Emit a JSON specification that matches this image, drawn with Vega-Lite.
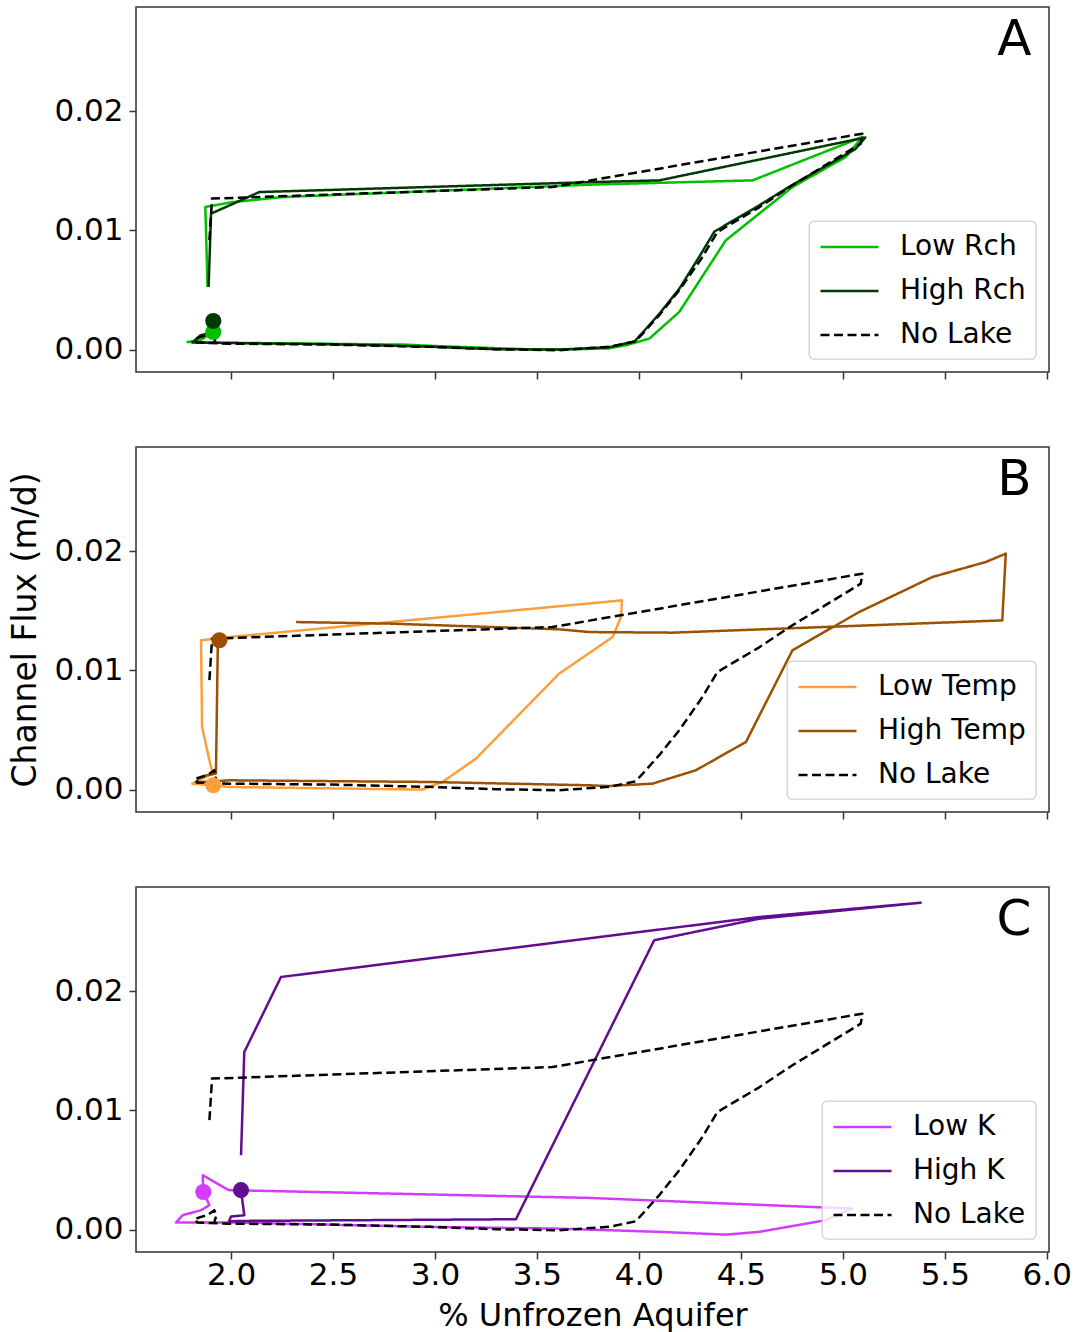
{
  "$schema": "https://vega.github.io/schema/vega-lite/v6.json",
  "background": "white",
  "padding": {"left": 9, "top": 6, "right": 5, "bottom": 0},
  "config": {
    "font": "DejaVu Sans",
    "view": {"stroke": "#333333", "strokeWidth": 1.5},
    "axis": {"domain": false, "grid": false, "ticks": true, "tickColor": "#333333", "tickWidth": 1.5, "tickSize": 7, "labelFont": "DejaVu Sans", "labelFontSize": 31, "labelColor": "#000000", "labelPadding": 6, "labelFlush": false, "labelOverlap": false, "labelBound": false, "titleFont": "DejaVu Sans", "titleFontSize": 32, "titleFontWeight": "normal", "titleColor": "#000000", "titlePadding": 11},
    "axisX": {"labelPadding": 1, "titlePadding": 10},
    "axisY": {"titleFontSize": 33},
    "legend": {"orient": "bottom-right", "offset": 13, "padding": 10, "strokeColor": "#d0d0d0", "strokeWidth": 1.3, "fillColor": "rgba(255,255,255,0.8)", "cornerRadius": 5, "symbolType": "M-1,0H3", "symbolSize": 841, "symbolStrokeWidth": 2.5, "labelFont": "DejaVu Sans", "labelFontSize": 28, "labelColor": "#000000", "labelOffset": 49, "rowPadding": 14}
  },
  "datasets": {
    "nolake": [
      {"s": "No Lake", "i": 0, "x": 1.894, "y": 0.00918},
      {"s": "No Lake", "i": 1, "x": 1.907, "y": 0.01267},
      {"s": "No Lake", "i": 2, "x": 3.575, "y": 0.01364},
      {"s": "No Lake", "i": 3, "x": 5.096, "y": 0.01812},
      {"s": "No Lake", "i": 4, "x": 5.088, "y": 0.01728},
      {"s": "No Lake", "i": 5, "x": 4.753, "y": 0.01379},
      {"s": "No Lake", "i": 6, "x": 4.59, "y": 0.01194},
      {"s": "No Lake", "i": 7, "x": 4.385, "y": 0.00987},
      {"s": "No Lake", "i": 8, "x": 4.312, "y": 0.00778},
      {"s": "No Lake", "i": 9, "x": 4.198, "y": 0.00498},
      {"s": "No Lake", "i": 10, "x": 4.1, "y": 0.00289},
      {"s": "No Lake", "i": 11, "x": 3.985, "y": 0.0007},
      {"s": "No Lake", "i": 12, "x": 3.854, "y": 0.00023},
      {"s": "No Lake", "i": 13, "x": 3.609, "y": -0.00005},
      {"s": "No Lake", "i": 14, "x": 3.299, "y": 0.00003},
      {"s": "No Lake", "i": 15, "x": 2.972, "y": 0.00023},
      {"s": "No Lake", "i": 16, "x": 2.482, "y": 0.00042},
      {"s": "No Lake", "i": 17, "x": 1.992, "y": 0.0005},
      {"s": "No Lake", "i": 18, "x": 1.836, "y": 0.00059},
      {"s": "No Lake", "i": 19, "x": 1.82, "y": 0.00087},
      {"s": "No Lake", "i": 20, "x": 1.853, "y": 0.00107},
      {"s": "No Lake", "i": 21, "x": 1.885, "y": 0.00121},
      {"s": "No Lake", "i": 22, "x": 1.918, "y": 0.00163},
      {"s": "No Lake", "i": 23, "x": 1.929, "y": 0.00121},
      {"s": "No Lake", "i": 24, "x": 1.918, "y": 0.00065}
    ],
    "A": [
      {"s": "Low Rch", "i": 0, "x": 1.913, "y": 0.00148},
      {"s": "Low Rch", "i": 1, "x": 1.85, "y": 0.0008},
      {"s": "Low Rch", "i": 2, "x": 1.787, "y": 0.00064},
      {"s": "Low Rch", "i": 3, "x": 1.95, "y": 0.00058},
      {"s": "Low Rch", "i": 4, "x": 2.5, "y": 0.00048},
      {"s": "Low Rch", "i": 5, "x": 2.85, "y": 0.00042},
      {"s": "Low Rch", "i": 6, "x": 3.0, "y": 0.0003},
      {"s": "Low Rch", "i": 7, "x": 3.5, "y": 0.0},
      {"s": "Low Rch", "i": 8, "x": 3.609, "y": 0.0},
      {"s": "Low Rch", "i": 9, "x": 3.85, "y": 0.0001},
      {"s": "Low Rch", "i": 10, "x": 3.936, "y": 0.00036},
      {"s": "Low Rch", "i": 11, "x": 4.051, "y": 0.00092},
      {"s": "Low Rch", "i": 12, "x": 4.198, "y": 0.00316},
      {"s": "Low Rch", "i": 13, "x": 4.426, "y": 0.00917},
      {"s": "Low Rch", "i": 14, "x": 4.753, "y": 0.01364},
      {"s": "Low Rch", "i": 15, "x": 5.014, "y": 0.01616},
      {"s": "Low Rch", "i": 16, "x": 5.096, "y": 0.01784},
      {"s": "Low Rch", "i": 17, "x": 4.557, "y": 0.0142},
      {"s": "Low Rch", "i": 18, "x": 3.757, "y": 0.01384},
      {"s": "Low Rch", "i": 19, "x": 2.253, "y": 0.0128},
      {"s": "Low Rch", "i": 20, "x": 2.008, "y": 0.01238},
      {"s": "Low Rch", "i": 21, "x": 1.874, "y": 0.01197},
      {"s": "Low Rch", "i": 22, "x": 1.885, "y": 0.00525},
      {"s": "High Rch", "i": 0, "x": 1.913, "y": 0.0024},
      {"s": "High Rch", "i": 1, "x": 1.9, "y": 0.0014},
      {"s": "High Rch", "i": 2, "x": 1.85, "y": 0.0012},
      {"s": "High Rch", "i": 3, "x": 1.81, "y": 0.0006},
      {"s": "High Rch", "i": 4, "x": 2.0, "y": 0.00055},
      {"s": "High Rch", "i": 5, "x": 2.5, "y": 0.00045},
      {"s": "High Rch", "i": 6, "x": 2.97, "y": 0.00025},
      {"s": "High Rch", "i": 7, "x": 3.3, "y": 0.00003},
      {"s": "High Rch", "i": 8, "x": 3.609, "y": 0.0},
      {"s": "High Rch", "i": 9, "x": 3.854, "y": 0.0002},
      {"s": "High Rch", "i": 10, "x": 3.98, "y": 0.0007},
      {"s": "High Rch", "i": 11, "x": 4.1, "y": 0.003},
      {"s": "High Rch", "i": 12, "x": 4.198, "y": 0.0051},
      {"s": "High Rch", "i": 13, "x": 4.3, "y": 0.0079},
      {"s": "High Rch", "i": 14, "x": 4.37, "y": 0.0099},
      {"s": "High Rch", "i": 15, "x": 4.58, "y": 0.012},
      {"s": "High Rch", "i": 16, "x": 4.75, "y": 0.0138},
      {"s": "High Rch", "i": 17, "x": 5.06, "y": 0.0168},
      {"s": "High Rch", "i": 18, "x": 5.11, "y": 0.0178},
      {"s": "High Rch", "i": 19, "x": 4.1, "y": 0.0142},
      {"s": "High Rch", "i": 20, "x": 3.757, "y": 0.01405},
      {"s": "High Rch", "i": 21, "x": 2.139, "y": 0.01322},
      {"s": "High Rch", "i": 22, "x": 1.902, "y": 0.01141},
      {"s": "High Rch", "i": 23, "x": 1.89, "y": 0.00525}
    ],
    "B": [
      {"s": "Low Temp", "i": 0, "x": 1.913, "y": 0.00036},
      {"s": "Low Temp", "i": 1, "x": 1.992, "y": 0.00022},
      {"s": "Low Temp", "i": 2, "x": 2.5, "y": 0.0001},
      {"s": "Low Temp", "i": 3, "x": 2.94, "y": 0.0},
      {"s": "Low Temp", "i": 4, "x": 3.037, "y": 0.00064},
      {"s": "Low Temp", "i": 5, "x": 3.201, "y": 0.0026},
      {"s": "Low Temp", "i": 6, "x": 3.609, "y": 0.00973},
      {"s": "Low Temp", "i": 7, "x": 3.871, "y": 0.0128},
      {"s": "Low Temp", "i": 8, "x": 3.912, "y": 0.01448},
      {"s": "Low Temp", "i": 9, "x": 3.917, "y": 0.01588},
      {"s": "Low Temp", "i": 10, "x": 1.992, "y": 0.0128},
      {"s": "Low Temp", "i": 11, "x": 1.853, "y": 0.01253},
      {"s": "Low Temp", "i": 12, "x": 1.858, "y": 0.00525},
      {"s": "Low Temp", "i": 13, "x": 1.894, "y": 0.00246},
      {"s": "Low Temp", "i": 14, "x": 1.91, "y": 0.00134},
      {"s": "Low Temp", "i": 15, "x": 1.81, "y": 0.0005},
      {"s": "Low Temp", "i": 16, "x": 1.9, "y": 0.00036},
      {"s": "High Temp", "i": 0, "x": 1.943, "y": 0.01253},
      {"s": "High Temp", "i": 1, "x": 1.935, "y": 0.01197},
      {"s": "High Temp", "i": 2, "x": 1.926, "y": 0.00134},
      {"s": "High Temp", "i": 3, "x": 1.88, "y": 0.0012},
      {"s": "High Temp", "i": 4, "x": 1.84, "y": 0.0009},
      {"s": "High Temp", "i": 5, "x": 1.83, "y": 0.0006},
      {"s": "High Temp", "i": 6, "x": 1.992, "y": 0.00078},
      {"s": "High Temp", "i": 7, "x": 2.972, "y": 0.00064},
      {"s": "High Temp", "i": 8, "x": 3.757, "y": 0.00036},
      {"s": "High Temp", "i": 9, "x": 3.854, "y": 0.0003},
      {"s": "High Temp", "i": 10, "x": 4.067, "y": 0.0005},
      {"s": "High Temp", "i": 11, "x": 4.279, "y": 0.00162},
      {"s": "High Temp", "i": 12, "x": 4.525, "y": 0.004},
      {"s": "High Temp", "i": 13, "x": 4.753, "y": 0.01169},
      {"s": "High Temp", "i": 14, "x": 5.08, "y": 0.0149},
      {"s": "High Temp", "i": 15, "x": 5.439, "y": 0.01784},
      {"s": "High Temp", "i": 16, "x": 5.701, "y": 0.0191},
      {"s": "High Temp", "i": 17, "x": 5.799, "y": 0.0198},
      {"s": "High Temp", "i": 18, "x": 5.782, "y": 0.0142},
      {"s": "High Temp", "i": 19, "x": 4.165, "y": 0.01317},
      {"s": "High Temp", "i": 20, "x": 3.757, "y": 0.01322},
      {"s": "High Temp", "i": 21, "x": 3.609, "y": 0.01345},
      {"s": "High Temp", "i": 22, "x": 2.776, "y": 0.01393},
      {"s": "High Temp", "i": 23, "x": 2.319, "y": 0.01406}
    ],
    "C": [
      {"s": "Low K", "i": 0, "x": 1.864, "y": 0.00316},
      {"s": "Low K", "i": 1, "x": 1.894, "y": 0.00205},
      {"s": "Low K", "i": 2, "x": 1.853, "y": 0.00163},
      {"s": "Low K", "i": 3, "x": 1.763, "y": 0.00121},
      {"s": "Low K", "i": 4, "x": 1.73, "y": 0.00059},
      {"s": "Low K", "i": 5, "x": 2.0, "y": 0.0006},
      {"s": "Low K", "i": 6, "x": 2.972, "y": 0.00023},
      {"s": "Low K", "i": 7, "x": 3.609, "y": 0.00008},
      {"s": "Low K", "i": 8, "x": 4.1, "y": -0.00019},
      {"s": "Low K", "i": 9, "x": 4.426, "y": -0.00042},
      {"s": "Low K", "i": 10, "x": 4.59, "y": -0.00019},
      {"s": "Low K", "i": 11, "x": 4.917, "y": 0.00079},
      {"s": "Low K", "i": 12, "x": 5.047, "y": 0.00176},
      {"s": "Low K", "i": 13, "x": 3.757, "y": 0.00266},
      {"s": "Low K", "i": 14, "x": 1.992, "y": 0.00331},
      {"s": "Low K", "i": 15, "x": 1.975, "y": 0.00344},
      {"s": "Low K", "i": 16, "x": 1.861, "y": 0.00456},
      {"s": "Low K", "i": 17, "x": 1.864, "y": 0.00316},
      {"s": "High K", "i": 0, "x": 2.049, "y": 0.00331},
      {"s": "High K", "i": 1, "x": 2.065, "y": 0.0012},
      {"s": "High K", "i": 2, "x": 2.0, "y": 0.0011},
      {"s": "High K", "i": 3, "x": 1.99, "y": 0.0007},
      {"s": "High K", "i": 4, "x": 2.074, "y": 0.00073},
      {"s": "High K", "i": 5, "x": 3.397, "y": 0.00087},
      {"s": "High K", "i": 6, "x": 4.075, "y": 0.02428},
      {"s": "High K", "i": 7, "x": 4.59, "y": 0.02609},
      {"s": "High K", "i": 8, "x": 5.382, "y": 0.02743},
      {"s": "High K", "i": 9, "x": 4.59, "y": 0.02623},
      {"s": "High K", "i": 10, "x": 2.245, "y": 0.0212},
      {"s": "High K", "i": 11, "x": 2.065, "y": 0.0149},
      {"s": "High K", "i": 12, "x": 2.049, "y": 0.00624}
    ],
    "dots": [
      {"p": "A", "s": "Low Rch", "x": 1.913, "y": 0.00148},
      {"p": "A", "s": "High Rch", "x": 1.913, "y": 0.0024},
      {"p": "B", "s": "Low Temp", "x": 1.913, "y": 0.00036},
      {"p": "B", "s": "High Temp", "x": 1.943, "y": 0.01253},
      {"p": "C", "s": "Low K", "x": 1.864, "y": 0.00316},
      {"p": "C", "s": "High K", "x": 2.049, "y": 0.00331}
    ],
    "labels": [
      {"p": "A", "lab": "A", "x": 5.925, "y": 0.0247},
      {"p": "B", "lab": "B", "x": 5.925, "y": 0.0247},
      {"p": "C", "lab": "C", "x": 5.925, "y": 0.0247}
    ]
  },
  "spacing": 75,
  "bounds": "flush",
  "resolve": {
    "scale": {"color": "independent", "strokeDash": "independent", "fill": "independent"},
    "legend": {"color": "independent", "strokeDash": "independent"}
  },
  "vconcat": [
    {
      "width": 913, "height": 365,
      "encoding": {
        "x": {"field": "x", "type": "quantitative", "scale": {"domain": [1.534, 6.011], "nice": false, "zero": false}, "axis": {"values": [2, 2.5, 3, 3.5, 4, 4.5, 5, 5.5, 6], "labels": false, "title": null}},
        "y": {"field": "y", "type": "quantitative", "scale": {"domain": [-0.00188, 0.02875], "nice": false, "zero": false}, "axis": {"values": [0, 0.01, 0.02], "format": ".2f", "title": null}}
      },
      "layer": [
        {"data": {"name": "A"}, "transform": [{"filter": "datum.s === 'Low Rch'"}], "mark": {"type": "line", "strokeWidth": 2.5, "strokeJoin": "round"},
         "encoding": {"order": {"field": "i", "type": "quantitative"},
           "color": {"field": "s", "type": "nominal", "scale": {"domain": ["Low Rch", "High Rch", "No Lake"], "range": ["#00c000", "#003a00", "#000000"]}, "legend": {"title": null}},
           "strokeDash": {"field": "s", "type": "nominal", "scale": {"domain": ["Low Rch", "High Rch", "No Lake"], "range": [[1, 0], [1, 0], [9, 4.5]]}, "legend": {"title": null}}}},
        {"data": {"name": "A"}, "transform": [{"filter": "datum.s === 'High Rch'"}], "mark": {"type": "line", "strokeWidth": 2.5, "strokeJoin": "round"},
         "encoding": {"order": {"field": "i", "type": "quantitative"},
           "color": {"field": "s", "type": "nominal", "scale": {"domain": ["Low Rch", "High Rch", "No Lake"], "range": ["#00c000", "#003a00", "#000000"]}, "legend": {"title": null}},
           "strokeDash": {"field": "s", "type": "nominal", "scale": {"domain": ["Low Rch", "High Rch", "No Lake"], "range": [[1, 0], [1, 0], [9, 4.5]]}, "legend": {"title": null}}}},
        {"data": {"name": "nolake"}, "mark": {"type": "line", "strokeWidth": 2.5, "strokeJoin": "round"},
         "encoding": {"order": {"field": "i", "type": "quantitative"},
           "color": {"field": "s", "type": "nominal", "scale": {"domain": ["Low Rch", "High Rch", "No Lake"], "range": ["#00c000", "#003a00", "#000000"]}, "legend": {"title": null}},
           "strokeDash": {"field": "s", "type": "nominal", "scale": {"domain": ["Low Rch", "High Rch", "No Lake"], "range": [[1, 0], [1, 0], [9, 4.5]]}, "legend": {"title": null}}}},
        {"data": {"name": "dots"}, "transform": [{"filter": "datum.p === 'A'"}], "mark": {"type": "point", "filled": true, "size": 260, "opacity": 1},
         "encoding": {"fill": {"field": "s", "type": "nominal", "scale": {"domain": ["Low Rch", "High Rch"], "range": ["#00c000", "#003a00"]}, "legend": null}}},
        {"data": {"name": "labels"}, "transform": [{"filter": "datum.p === 'A'"}], "mark": {"type": "text", "fontSize": 50, "align": "right", "baseline": "alphabetic", "color": "#000000", "font": "DejaVu Sans"},
         "encoding": {"text": {"field": "lab", "type": "nominal"}}}
      ]
    },
    {
      "width": 913, "height": 365,
      "encoding": {
        "x": {"field": "x", "type": "quantitative", "scale": {"domain": [1.534, 6.011], "nice": false, "zero": false}, "axis": {"values": [2, 2.5, 3, 3.5, 4, 4.5, 5, 5.5, 6], "labels": false, "title": null}},
        "y": {"field": "y", "type": "quantitative", "scale": {"domain": [-0.00188, 0.02875], "nice": false, "zero": false}, "axis": {"values": [0, 0.01, 0.02], "format": ".2f", "title": "Channel Flux (m/d)"}}
      },
      "layer": [
        {"data": {"name": "B"}, "transform": [{"filter": "datum.s === 'Low Temp'"}], "mark": {"type": "line", "strokeWidth": 2.5, "strokeJoin": "round"},
         "encoding": {"order": {"field": "i", "type": "quantitative"},
           "color": {"field": "s", "type": "nominal", "scale": {"domain": ["Low Temp", "High Temp", "No Lake"], "range": ["#ff9e3d", "#9c5000", "#000000"]}, "legend": {"title": null}},
           "strokeDash": {"field": "s", "type": "nominal", "scale": {"domain": ["Low Temp", "High Temp", "No Lake"], "range": [[1, 0], [1, 0], [9, 4.5]]}, "legend": {"title": null}}}},
        {"data": {"name": "B"}, "transform": [{"filter": "datum.s === 'High Temp'"}], "mark": {"type": "line", "strokeWidth": 2.5, "strokeJoin": "round"},
         "encoding": {"order": {"field": "i", "type": "quantitative"},
           "color": {"field": "s", "type": "nominal", "scale": {"domain": ["Low Temp", "High Temp", "No Lake"], "range": ["#ff9e3d", "#9c5000", "#000000"]}, "legend": {"title": null}},
           "strokeDash": {"field": "s", "type": "nominal", "scale": {"domain": ["Low Temp", "High Temp", "No Lake"], "range": [[1, 0], [1, 0], [9, 4.5]]}, "legend": {"title": null}}}},
        {"data": {"name": "nolake"}, "mark": {"type": "line", "strokeWidth": 2.5, "strokeJoin": "round"},
         "encoding": {"order": {"field": "i", "type": "quantitative"},
           "color": {"field": "s", "type": "nominal", "scale": {"domain": ["Low Temp", "High Temp", "No Lake"], "range": ["#ff9e3d", "#9c5000", "#000000"]}, "legend": {"title": null}},
           "strokeDash": {"field": "s", "type": "nominal", "scale": {"domain": ["Low Temp", "High Temp", "No Lake"], "range": [[1, 0], [1, 0], [9, 4.5]]}, "legend": {"title": null}}}},
        {"data": {"name": "dots"}, "transform": [{"filter": "datum.p === 'B'"}], "mark": {"type": "point", "filled": true, "size": 260, "opacity": 1},
         "encoding": {"fill": {"field": "s", "type": "nominal", "scale": {"domain": ["Low Temp", "High Temp"], "range": ["#ff9e3d", "#9c5000"]}, "legend": null}}},
        {"data": {"name": "labels"}, "transform": [{"filter": "datum.p === 'B'"}], "mark": {"type": "text", "fontSize": 50, "align": "right", "baseline": "alphabetic", "color": "#000000", "font": "DejaVu Sans"},
         "encoding": {"text": {"field": "lab", "type": "nominal"}}}
      ]
    },
    {
      "width": 913, "height": 365,
      "encoding": {
        "x": {"field": "x", "type": "quantitative", "scale": {"domain": [1.534, 6.011], "nice": false, "zero": false}, "axis": {"values": [2, 2.5, 3, 3.5, 4, 4.5, 5, 5.5, 6], "format": ".1f", "title": "% Unfrozen Aquifer"}},
        "y": {"field": "y", "type": "quantitative", "scale": {"domain": [-0.00188, 0.02875], "nice": false, "zero": false}, "axis": {"values": [0, 0.01, 0.02], "format": ".2f", "title": null}}
      },
      "layer": [
        {"data": {"name": "C"}, "transform": [{"filter": "datum.s === 'Low K'"}], "mark": {"type": "line", "strokeWidth": 2.5, "strokeJoin": "round"},
         "encoding": {"order": {"field": "i", "type": "quantitative"},
           "color": {"field": "s", "type": "nominal", "scale": {"domain": ["Low K", "High K", "No Lake"], "range": ["#d23cff", "#620c92", "#000000"]}, "legend": {"title": null}},
           "strokeDash": {"field": "s", "type": "nominal", "scale": {"domain": ["Low K", "High K", "No Lake"], "range": [[1, 0], [1, 0], [9, 4.5]]}, "legend": {"title": null}}}},
        {"data": {"name": "C"}, "transform": [{"filter": "datum.s === 'High K'"}], "mark": {"type": "line", "strokeWidth": 2.5, "strokeJoin": "round"},
         "encoding": {"order": {"field": "i", "type": "quantitative"},
           "color": {"field": "s", "type": "nominal", "scale": {"domain": ["Low K", "High K", "No Lake"], "range": ["#d23cff", "#620c92", "#000000"]}, "legend": {"title": null}},
           "strokeDash": {"field": "s", "type": "nominal", "scale": {"domain": ["Low K", "High K", "No Lake"], "range": [[1, 0], [1, 0], [9, 4.5]]}, "legend": {"title": null}}}},
        {"data": {"name": "nolake"}, "mark": {"type": "line", "strokeWidth": 2.5, "strokeJoin": "round"},
         "encoding": {"order": {"field": "i", "type": "quantitative"},
           "color": {"field": "s", "type": "nominal", "scale": {"domain": ["Low K", "High K", "No Lake"], "range": ["#d23cff", "#620c92", "#000000"]}, "legend": {"title": null}},
           "strokeDash": {"field": "s", "type": "nominal", "scale": {"domain": ["Low K", "High K", "No Lake"], "range": [[1, 0], [1, 0], [9, 4.5]]}, "legend": {"title": null}}}},
        {"data": {"name": "dots"}, "transform": [{"filter": "datum.p === 'C'"}], "mark": {"type": "point", "filled": true, "size": 260, "opacity": 1},
         "encoding": {"fill": {"field": "s", "type": "nominal", "scale": {"domain": ["Low K", "High K"], "range": ["#d23cff", "#620c92"]}, "legend": null}}},
        {"data": {"name": "labels"}, "transform": [{"filter": "datum.p === 'C'"}], "mark": {"type": "text", "fontSize": 50, "align": "right", "baseline": "alphabetic", "color": "#000000", "font": "DejaVu Sans"},
         "encoding": {"text": {"field": "lab", "type": "nominal"}}}
      ]
    }
  ]
}
